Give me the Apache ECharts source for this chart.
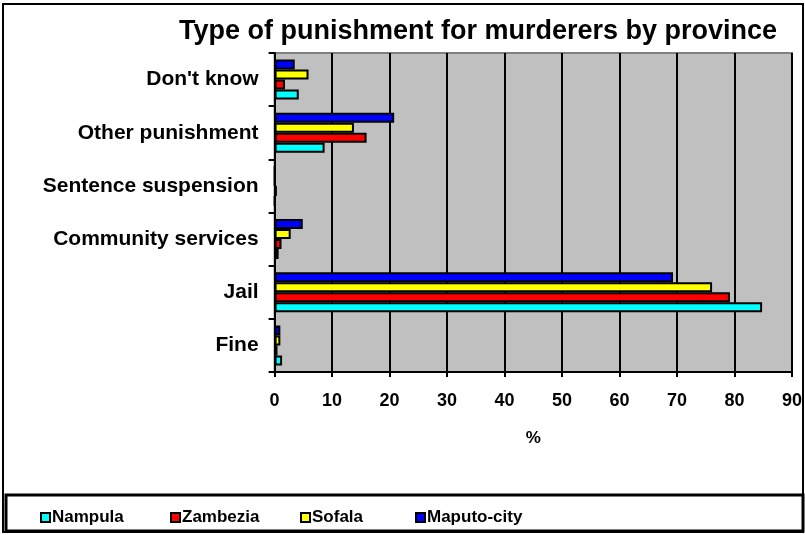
<!DOCTYPE html>
<html>
<head>
<meta charset="utf-8">
<script src="https://cdn.jsdelivr.net/npm/echarts@6/dist/echarts.min.js"></script>
<style>html,body{margin:0;padding:0;background:#fff;}#c{width:805px;height:535px;}</style>
</head>
<body>
<div id="c"></div>
<script>
const categories = ['Fine', 'Jail', 'Community services', 'Sentence suspension', 'Other punishment', "Don't know"];
const nampula   = [1.3, 84.8, 0.7, 0, 8.7, 4.2];
const zambezia  = [0.5, 79.2, 1.2, 0.4, 16.0, 1.8];
const sofala    = [1.0, 76.1, 2.8, 0, 13.8, 5.9];
const maputo    = [1.0, 69.3, 4.9, 0, 20.8, 3.5];
const xTicks = [0, 10, 20, 30, 40, 50, 60, 70, 80, 90];
const legendNames = ['Nampula', 'Zambezia', 'Sofala', 'Maputo-city'];

const font = 'Liberation Sans, Arial, sans-serif';
const chart = echarts.init(document.getElementById('c'), null, {renderer: 'canvas'});
function s(name, data, color) {
  return {
    name: name, type: 'bar', data: data, barWidth: 10, barGap: '0%',
    itemStyle: {color: color, borderColor: '#000', borderWidth: 2},
    animation: false
  };
}
const legendLefts = [35, 165, 295, 410];
const legends = legendNames.map((n, i) => ({
  data: [n], left: legendLefts[i], top: 504, itemWidth: 9, itemHeight: 9, icon: 'rect',
  textStyle: {fontFamily: font, fontWeight: 'bold', fontSize: 17, color: '#000', padding: [0,0,0,-3]}
}));
chart.setOption({
  animation: false,
  backgroundColor: '#fff',
  title: {
    text: 'Type of punishment for murderers by province',
    left: 473, top: 13, textAlign: 'center',
    textStyle: {fontFamily: font, fontWeight: 'bold', fontSize: 27, color: '#000'}
  },
  grid: {left: 274.6, right: 5, top: 53, bottom: 163, show: true, backgroundColor: '#c0c0c0', borderColor: '#808080', borderWidth: 2},
  legend: legends,
  xAxis: {
    type: 'value', min: 0, max: 90, interval: 10,
    name: '%', nameLocation: 'middle', nameGap: 58,
    nameTextStyle: {fontFamily: font, fontWeight: 'bold', fontSize: 17, color: '#000'},
    axisLine: {show: true, lineStyle: {color: '#000', width: 2}},
    axisTick: {show: true, length: 5, lineStyle: {color: '#000', width: 2}},
    axisLabel: {fontFamily: font, fontWeight: 'bold', fontSize: 18, color: '#000', margin: 20,
      formatter: v => xTicks.includes(v) ? String(v) : ''},
    splitLine: {show: true, lineStyle: {color: '#000', width: 2}}
  },
  yAxis: {
    type: 'category', data: categories,
    axisLine: {show: true, lineStyle: {color: '#000', width: 2}},
    axisTick: {show: true, length: 6, lineStyle: {color: '#000', width: 2}},
    axisLabel: {fontFamily: font, fontWeight: 'bold', fontSize: 21, color: '#000', margin: 16},
    splitLine: {show: false}
  },
  series: [
    s('Maputo-city', maputo, '#0000ff'),
    s('Sofala', sofala, '#ffff00'),
    s('Zambezia', zambezia, '#ff0000'),
    s('Nampula', nampula, '#00ffff')
  ],
  graphic: [
    {type: 'rect', shape: {x: 3, y: 4, width: 800, height: 528}, style: {fill: 'none', stroke: '#000', lineWidth: 2}, silent: true},
    {type: 'rect', shape: {x: 6, y: 495, width: 797, height: 36}, style: {fill: 'none', stroke: '#000', lineWidth: 3}, silent: true}
  ]
});
</script>
</body>
</html>
